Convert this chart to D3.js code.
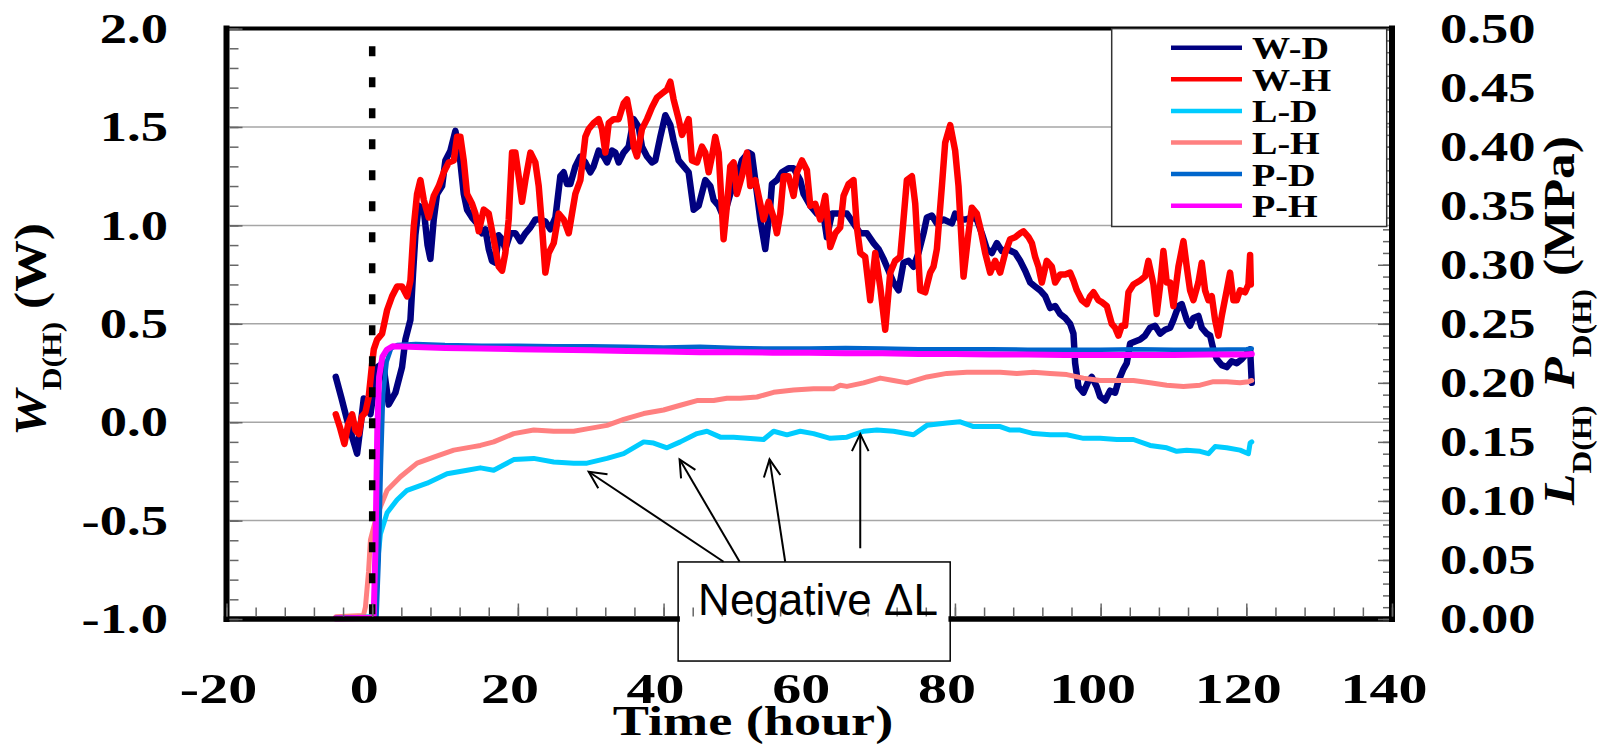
<!DOCTYPE html>
<html>
<head>
<meta charset="utf-8">
<script src="https://cdn.jsdelivr.net/npm/d3@7"></script>
<style>
  html, body { margin: 0; padding: 0; background: #fff; }
  svg { display: block; }
</style>
</head>
<body>
<svg id="chart" width="1598" height="746"></svg>
<script>
// ---- Tick values and labels ----
const xTicks = [-20, 0, 20, 40, 60, 80, 100, 120, 140];
const leftTicks = [-1.0, -0.5, 0.0, 0.5, 1.0, 1.5, 2.0];
const leftTickLabels = ["-1.0", "-0.5", "0.0", "0.5", "1.0", "1.5", "2.0"];
const rightTicks = [0, 0.05, 0.10, 0.15, 0.20, 0.25, 0.30, 0.35, 0.40, 0.45, 0.50];
const rightTickLabels = ["0.00", "0.05", "0.10", "0.15", "0.20", "0.25", "0.30", "0.35", "0.40", "0.45", "0.50"];

// ---- Series: [time (hour), value] ----
// W-D and W-H use the left axis (W); L and P series use the right axis (MPa)
const wD = [[-5.0,0.23],[-4.2,0.12],[-3.44,0.01],[-2.7,-0.08],[-2.07,-0.16],[-1.6,-0.02],[-1.16,0.12],[-0.7,0.08],[-0.24,0.04],[0.3,0.18],[0.68,0.28],[1.5,0.30],[2.27,0.09],[3.19,0.15],[4.1,0.28],[4.56,0.42],[5.25,0.52],[5.6,0.75],[5.93,0.95],[6.39,1.10],[7.08,1.08],[7.6,0.90],[7.99,0.83],[8.45,1.03],[8.91,1.16],[9.6,1.20],[10.05,1.33],[10.74,1.38],[11.42,1.48],[11.88,1.40],[12.57,1.16],[13.02,1.08],[13.71,1.04],[14.4,1.01],[15.08,0.96],[15.54,0.98],[16.0,0.88],[16.45,0.82],[16.91,0.81],[17.37,0.95],[17.83,0.93],[18.28,0.88],[18.97,0.96],[19.66,0.96],[20.34,0.92],[21.03,0.96],[21.72,0.99],[22.4,1.03],[23.09,1.03],[23.77,1.02],[24.46,0.98],[25.15,1.04],[25.83,1.25],[26.29,1.27],[26.75,1.21],[27.2,1.21],[27.89,1.30],[28.58,1.35],[29.26,1.32],[29.95,1.27],[30.4,1.30],[31.09,1.38],[31.78,1.35],[32.24,1.32],[32.92,1.38],[33.38,1.37],[33.84,1.32],[34.52,1.37],[35.21,1.40],[35.9,1.54],[36.58,1.50],[37.04,1.40],[37.73,1.35],[38.41,1.32],[38.87,1.33],[39.55,1.45],[40.24,1.56],[40.93,1.51],[41.38,1.43],[42.07,1.33],[42.76,1.30],[43.44,1.27],[44.13,1.08],[44.82,1.10],[45.73,1.23],[46.42,1.20],[46.87,1.13],[47.56,1.10],[48.24,1.04],[49.16,1.16],[50.07,1.25],[50.76,1.33],[51.67,1.37],[52.13,1.36],[52.59,1.23],[53.28,1.03],[53.96,0.88],[54.65,1.10],[54.88,1.21],[55.56,1.23],[56.25,1.27],[57.16,1.29],[57.85,1.29],[58.76,1.23],[59.22,1.16],[60.14,1.10],[61.05,1.06],[61.97,1.05],[62.42,0.94],[63.11,1.06],[63.8,1.06],[64.48,1.06],[65.17,1.06],[66.08,1.01],[67.0,0.96],[67.91,0.96],[68.83,0.91],[69.51,0.88],[70.2,0.83],[70.89,0.77],[71.57,0.71],[72.26,0.67],[72.94,0.81],[73.63,0.82],[74.31,0.79],[75.0,0.86],[75.69,0.96],[76.15,1.04],[76.83,1.05],[77.52,1.01],[78.44,1.03],[79.58,1.01],[80.03,1.06],[80.72,1.03],[81.41,1.03],[82.32,1.04],[83.0,1.03],[83.69,0.96],[84.38,0.88],[85.07,0.86],[85.75,0.91],[86.44,0.87],[87.13,0.88],[88.27,0.86],[88.95,0.82],[89.64,0.77],[90.33,0.71],[91.0,0.69],[91.7,0.67],[92.4,0.64],[93.07,0.58],[93.76,0.59],[94.44,0.55],[95.13,0.53],[95.81,0.50],[96.27,0.45],[96.5,0.30],[96.96,0.18],[97.64,0.15],[98.33,0.21],[98.79,0.23],[99.47,0.18],[99.93,0.13],[100.62,0.11],[101.3,0.16],[101.99,0.15],[102.45,0.21],[103.13,0.27],[103.59,0.30],[104.05,0.40],[104.73,0.41],[105.42,0.42],[106.1,0.44],[106.79,0.48],[107.48,0.49],[108.16,0.45],[108.85,0.47],[109.54,0.48],[110.0,0.52],[110.68,0.59],[111.14,0.60],[111.82,0.52],[112.28,0.49],[112.74,0.53],[113.42,0.54],[113.88,0.48],[114.57,0.45],[115.03,0.44],[115.48,0.37],[115.94,0.32],[116.63,0.29],[117.31,0.28],[118.0,0.31],[118.69,0.30],[119.37,0.32],[120.06,0.35],[120.52,0.37],[120.75,0.20]];

const wH = [[-5.0,0.04],[-4.4,-0.03],[-3.81,-0.11],[-3.3,-0.01],[-2.75,0.04],[-2.3,-0.04],[-1.84,-0.06],[-1.4,0.03],[-0.93,0.05],[-0.47,0.13],[0.0,0.30],[0.22,0.37],[0.68,0.42],[1.36,0.45],[2.05,0.57],[2.73,0.64],[3.42,0.69],[4.1,0.69],[4.79,0.64],[5.25,0.72],[5.7,0.99],[6.16,1.16],[6.62,1.23],[7.08,1.13],[7.76,1.04],[8.45,1.15],[9.14,1.20],[9.82,1.27],[10.51,1.32],[11.2,1.33],[11.65,1.45],[12.11,1.45],[12.57,1.33],[13.02,1.16],[13.71,1.11],[14.17,1.06],[14.63,0.97],[15.31,1.08],[16.0,1.06],[16.68,0.93],[17.37,0.79],[17.83,0.77],[18.28,0.86],[18.74,1.03],[19.2,1.37],[19.66,1.37],[20.11,1.25],[20.57,1.12],[21.03,1.23],[21.72,1.37],[22.4,1.32],[22.86,1.20],[23.32,0.99],[23.77,0.76],[24.23,0.86],[24.92,0.91],[25.6,1.06],[26.29,1.03],[26.98,0.96],[27.43,1.06],[27.89,1.16],[28.58,1.23],[29.26,1.45],[29.72,1.49],[30.4,1.52],[31.09,1.54],[31.55,1.49],[32.01,1.37],[32.47,1.52],[33.15,1.54],[33.84,1.54],[34.52,1.62],[34.98,1.64],[35.44,1.55],[35.9,1.40],[36.35,1.35],[37.04,1.49],[37.73,1.54],[38.41,1.60],[39.1,1.65],[39.78,1.67],[40.47,1.69],[40.93,1.73],[41.38,1.64],[42.07,1.54],[42.53,1.46],[42.99,1.50],[43.44,1.54],[43.9,1.33],[44.59,1.32],[45.27,1.40],[45.73,1.37],[46.19,1.27],[46.64,1.35],[47.1,1.45],[47.56,1.37],[48.24,0.93],[48.7,1.10],[49.16,1.30],[49.62,1.32],[50.07,1.16],[50.76,1.25],[51.45,1.37],[51.9,1.20],[52.59,1.23],[53.05,1.15],[53.73,1.03],[54.42,1.12],[55.11,1.04],[55.56,0.96],[56.02,1.06],[56.48,1.25],[57.16,1.25],[57.85,1.15],[58.31,1.27],[59.0,1.33],[59.68,1.28],[60.14,1.10],[60.82,1.11],[61.51,1.03],[62.2,1.15],[62.88,0.89],[63.57,0.96],[64.25,0.99],[64.71,1.15],[65.4,1.21],[66.08,1.23],[66.54,0.99],[67.0,0.86],[67.68,0.84],[68.37,0.62],[69.06,0.86],[69.74,0.69],[70.43,0.47],[71.12,0.76],[71.8,0.82],[72.49,0.84],[72.94,1.03],[73.4,1.23],[74.09,1.25],[74.55,1.11],[75.23,0.67],[75.92,0.66],[76.6,0.76],[77.06,0.79],[77.52,0.88],[78.21,1.20],[78.66,1.42],[79.35,1.51],[80.03,1.38],[80.49,1.20],[81.18,0.74],[81.86,0.96],[82.32,1.09],[83.0,1.06],[83.46,0.99],[84.15,0.86],[84.84,0.76],[85.52,0.82],[86.21,0.76],[86.9,0.86],[87.58,0.93],[88.27,0.94],[88.95,0.96],[89.41,0.97],[90.1,0.94],[90.56,0.91],[91.01,0.84],[91.47,0.79],[91.93,0.71],[92.61,0.82],[93.3,0.79],[93.76,0.71],[94.44,0.75],[95.13,0.75],[95.81,0.76],[96.27,0.72],[96.73,0.67],[97.42,0.62],[98.1,0.60],[98.56,0.64],[99.02,0.66],[99.7,0.62],[100.16,0.61],[100.85,0.59],[101.53,0.50],[101.99,0.48],[102.45,0.44],[102.9,0.49],[103.36,0.49],[103.82,0.66],[104.5,0.70],[105.42,0.72],[106.1,0.74],[106.56,0.82],[107.25,0.70],[107.7,0.55],[108.16,0.69],[108.62,0.87],[109.08,0.71],[109.54,0.71],[109.99,0.59],[110.68,0.79],[111.37,0.92],[111.82,0.79],[112.28,0.67],[112.74,0.62],[113.42,0.71],[113.88,0.81],[114.34,0.67],[114.8,0.62],[115.26,0.64],[115.71,0.52],[116.17,0.44],[116.63,0.54],[117.31,0.67],[117.77,0.76],[118.23,0.62],[118.69,0.62],[119.14,0.67],[119.83,0.66],[120.29,0.70],[120.52,0.85],[120.62,0.70]];

const lD = [[-5.0,0.001],[0.3,0.002],[0.45,0.02],[0.68,0.044],[1.13,0.072],[2.05,0.090],[3.42,0.101],[4.79,0.109],[7.54,0.115],[10.28,0.123],[13.03,0.126],[14.85,0.128],[16.68,0.126],[19.43,0.135],[22.17,0.136],[24.92,0.133],[27.66,0.132],[29.49,0.132],[32.24,0.136],[34.52,0.140],[37.27,0.150],[38.64,0.149],[40.47,0.145],[42.3,0.150],[44.59,0.157],[45.96,0.159],[47.79,0.154],[49.62,0.154],[51.45,0.153],[53.73,0.152],[55.11,0.159],[56.94,0.156],[58.76,0.159],[60.59,0.157],[62.88,0.153],[65.17,0.154],[67.45,0.159],[69.29,0.160],[71.57,0.159],[74.31,0.156],[76.15,0.164],[78.89,0.166],[80.72,0.167],[82.55,0.163],[83.46,0.163],[86.21,0.163],[87.58,0.160],[88.95,0.160],[90.79,0.157],[93.07,0.156],[95.36,0.156],[97.64,0.153],[99.93,0.153],[102.22,0.152],[104.5,0.152],[106.79,0.147],[109.08,0.145],[110.45,0.142],[111.82,0.143],[113.65,0.142],[114.8,0.140],[115.71,0.146],[117.31,0.145],[119.14,0.143],[120.29,0.140],[120.52,0.149],[120.75,0.150]];

const lH = [[-5.0,0.002],[-1.2,0.003],[-0.93,0.010],[-0.5,0.040],[-0.24,0.067],[0.3,0.080],[1.13,0.095],[2.05,0.109],[3.88,0.1205],[6.17,0.132],[8.45,0.137],[11.2,0.143],[13.94,0.146],[14.85,0.147],[16.68,0.150],[19.43,0.157],[22.17,0.160],[24.92,0.159],[27.66,0.159],[29.49,0.161],[32.24,0.164],[34.52,0.169],[37.27,0.174],[40.0,0.177],[42.3,0.181],[44.59,0.185],[46.87,0.185],[48.7,0.187],[50.53,0.187],[52.82,0.188],[55.11,0.192],[57.85,0.194],[60.59,0.195],[63.34,0.195],[64.25,0.198],[65.17,0.197],[67.45,0.200],[69.74,0.204],[71.57,0.202],[73.4,0.200],[76.15,0.205],[78.89,0.208],[81.64,0.209],[83.46,0.209],[86.21,0.209],[88.5,0.208],[90.79,0.209],[93.07,0.208],[95.36,0.207],[97.64,0.204],[99.93,0.202],[102.22,0.202],[104.5,0.202],[106.79,0.200],[109.08,0.198],[111.37,0.197],[113.65,0.198],[115.48,0.201],[117.31,0.201],[119.14,0.200],[120.29,0.201],[120.75,0.202]];

const pD = [[-5.0,0.001],[0.6,0.002],[0.9,0.050],[1.2,0.130],[1.5,0.190],[2.0,0.218],[2.6,0.229],[3.4,0.232],[6,0.233],[10,0.232],[15,0.2315],[20,0.2315],[25,0.231],[30,0.231],[35,0.2305],[40,0.230],[45,0.2305],[50,0.2295],[55,0.229],[60,0.229],[65,0.2295],[70,0.229],[75,0.2285],[80,0.2285],[85,0.2285],[90,0.228],[95,0.228],[100,0.228],[105,0.2285],[110,0.228],[115,0.228],[120,0.2285],[120.75,0.229]];

const pH = [[-5.0,0.0005],[0.2,0.001],[0.45,0.060],[0.7,0.160],[0.95,0.205],[1.4,0.222],[2.0,0.228],[2.8,0.231],[5,0.2305],[10,0.2295],[15,0.229],[20,0.2285],[25,0.228],[30,0.2275],[35,0.227],[40,0.2265],[45,0.226],[50,0.226],[55,0.2255],[60,0.2255],[65,0.225],[70,0.225],[75,0.2245],[80,0.2245],[85,0.224],[90,0.224],[95,0.2235],[100,0.2235],[105,0.2235],[110,0.2235],[115,0.224],[120,0.224],[120.75,0.2245]];

const seriesNames = ["W-D", "W-H", "L-D", "L-H", "P-D", "P-H"];
const seriesColors = ["#000080", "#FF0000", "#00CCFF", "#FF8080", "#0066CC", "#FF00FF"];
const seriesData = [wD, wH, lD, lH, pD, pH];
const seriesAxis = ["left", "left", "right", "right", "right", "right"];
const seriesWidth = [6.5, 6.5, 5, 5, 4.5, 6];

// Annotation: arrows from the note box to the L-D curve, [t0, p0, t1, p1] in (hour, MPa)
const noteArrows = [[48.24, 0.0485, 29.72, 0.1247], [50.44, 0.0485, 42.2, 0.1352], [56.7, 0.0485, 54.55, 0.1352], [67.0, 0.0599, 67.0, 0.1566]];
const noteBox = [42.0, 79.35, -0.0356, 0.0483];
const noteText = "Negative \u0394L";

// ---- Layout ----
const W = 1598, H = 746;
const plot = { left: 226.5, right: 1392, top: 28.6, bottom: 619 };
const serif = "'Liberation Serif', 'Times New Roman', serif";

const svg = d3.select("#chart");
svg.append("rect").attr("width", W).attr("height", H).attr("fill", "#fff");

const x = d3.scaleLinear().domain([-20, 140]).range([plot.left, plot.right]);
const yL = d3.scaleLinear().domain([-1, 2]).range([plot.bottom, plot.top]);
const yR = d3.scaleLinear().domain([0, 0.5]).range([plot.bottom, plot.top]);

// Horizontal gridlines at the inner left-axis steps
svg.append("g").selectAll("line")
  .data(leftTicks.filter(v => v > -1 && v < 2))
  .join("line")
  .attr("x1", plot.left).attr("x2", plot.right)
  .attr("y1", d => yL(d)).attr("y2", d => yL(d))
  .attr("stroke", "#a6a6a6").attr("stroke-width", 1.5);

// Series
seriesData.forEach((data, i) => {
  const ys = seriesAxis[i] === "left" ? yL : yR;
  const line = d3.line().x(d => x(d[0])).y(d => ys(d[1]));
  svg.append("path")
    .datum(data)
    .attr("d", line)
    .attr("fill", "none")
    .attr("stroke", seriesColors[i])
    .attr("stroke-width", seriesWidth[i])
    .attr("stroke-linejoin", "round")
    .attr("stroke-linecap", "round");
});

// Vertical dotted marker at time zero
svg.append("line")
  .attr("x1", x(0)).attr("x2", x(0))
  .attr("y1", yL(1.91)).attr("y2", yL(-1))
  .attr("stroke", "#000").attr("stroke-width", 6.5)
  .attr("stroke-dasharray", "10,21");

// Note box (white fill sits over the bottom frame line)
svg.append("rect")
  .attr("x", x(noteBox[0])).attr("y", yR(noteBox[3]))
  .attr("width", x(noteBox[1]) - x(noteBox[0]))
  .attr("height", yR(noteBox[2]) - yR(noteBox[3]))
  .attr("fill", "#fff").attr("stroke", "#000").attr("stroke-width", 1.5);

// Frame
const frame = svg.append("g").attr("stroke", "#000").attr("stroke-linecap", "square");
frame.append("line").attr("x1", plot.left).attr("x2", plot.right).attr("y1", plot.top).attr("y2", plot.top).attr("stroke-width", 4);
frame.append("line").attr("x1", plot.left).attr("x2", plot.left).attr("y1", plot.top).attr("y2", plot.bottom).attr("stroke-width", 6);
frame.append("line").attr("x1", plot.right).attr("x2", plot.right).attr("y1", plot.top).attr("y2", plot.bottom).attr("stroke-width", 6);
frame.append("line").attr("x1", plot.left).attr("x2", x(noteBox[0]) - 1).attr("y1", plot.bottom).attr("y2", plot.bottom).attr("stroke-width", 5.5);
frame.append("line").attr("x1", x(noteBox[1]) + 1).attr("x2", plot.right).attr("y1", plot.bottom).attr("y2", plot.bottom).attr("stroke-width", 5.5);

// Inward ticks through d3 axes
function styleTicks(g) {
  g.select(".domain").remove();
  g.selectAll(".tick line").attr("stroke", "#666").attr("stroke-width", 1.5);
  g.selectAll(".tick text").remove();
}
svg.append("g").attr("transform", `translate(${plot.left + 3},0)`)
  .call(d3.axisRight(yL).tickValues(d3.range(-10, 21).map(k => k / 10)).tickSize(9)).call(styleTicks);
svg.append("g").attr("transform", `translate(${plot.left + 3},0)`)
  .call(d3.axisRight(yL).tickValues(leftTicks).tickSize(13)).call(styleTicks);
svg.append("g").attr("transform", `translate(${plot.right - 3},0)`)
  .call(d3.axisLeft(yR).tickValues(d3.range(0, 51).map(k => k / 100)).tickSize(6)).call(styleTicks);
svg.append("g").attr("transform", `translate(${plot.right - 3},0)`)
  .call(d3.axisLeft(yR).tickValues(rightTicks).tickSize(11)).call(styleTicks);
svg.append("g").attr("transform", `translate(0,${plot.bottom - 2.5})`)
  .call(d3.axisTop(x).tickValues(d3.range(-20, 141, 4)).tickSize(9)).call(styleTicks);
svg.append("g").attr("transform", `translate(0,${plot.bottom - 2.5})`)
  .call(d3.axisTop(x).tickValues(xTicks).tickSize(13)).call(styleTicks);

// Tick labels (bold serif, widened)
const tickFont = 42, tickStretch = 1.3;
svg.append("g").selectAll("g")
  .data(leftTicks)
  .join("g")
  .attr("transform", d => `translate(168,${yL(d) + 14.2}) scale(${tickStretch},1)`)
  .append("text")
  .attr("text-anchor", "end")
  .attr("font-family", serif).attr("font-weight", "bold").attr("font-size", tickFont)
  .text((d, i) => leftTickLabels[i]);

svg.append("g").selectAll("g")
  .data(rightTicks)
  .join("g")
  .attr("transform", d => `translate(1440,${yR(d) + 14.2}) scale(${tickStretch},1)`)
  .append("text")
  .attr("text-anchor", "start")
  .attr("font-family", serif).attr("font-weight", "bold").attr("font-size", tickFont)
  .text((d, i) => rightTickLabels[i]);

svg.append("g").selectAll("g")
  .data(xTicks)
  .join("g")
  .attr("transform", d => `translate(${x(d) - 8},703) scale(1.38,1)`)
  .append("text")
  .attr("text-anchor", "middle")
  .attr("font-family", serif).attr("font-weight", "bold").attr("font-size", tickFont)
  .text(d => String(d));

// Axis titles
svg.append("g").attr("transform", "translate(753,735) scale(1.29,1)")
  .append("text")
  .attr("text-anchor", "middle")
  .attr("font-family", serif).attr("font-weight", "bold").attr("font-size", 42)
  .text("Time (hour)");

const lt = svg.append("text")
  .attr("transform", "translate(45,436) rotate(-90) scale(1.17,1)")
  .attr("font-family", serif).attr("font-weight", "bold").attr("font-size", 44);
lt.append("tspan").attr("font-style", "italic").text("W");
lt.append("tspan").attr("font-size", 27).attr("dy", 16).text("D(H)");
lt.append("tspan").attr("dy", -16).text("\u00a0(W)");

const rt = svg.append("text")
  .attr("transform", "translate(1574,505) rotate(-90) scale(1.17,1)")
  .attr("font-family", serif).attr("font-weight", "bold").attr("font-size", 44);
rt.append("tspan").attr("font-style", "italic").text("L");
rt.append("tspan").attr("font-size", 27).attr("dy", 17).text("D(H)");
rt.append("tspan").attr("dy", -17).attr("dx", 14).attr("font-style", "italic").text("P");
rt.append("tspan").attr("font-size", 27).attr("dy", 17).text("D(H)");
rt.append("tspan").attr("dy", -17).text("\u00a0(MPa)");

// Legend
const legend = svg.append("g");
legend.append("rect")
  .attr("x", 1111.7).attr("y", plot.top)
  .attr("width", 1386.7 - 1111.7).attr("height", 226.5 - plot.top)
  .attr("fill", "#fff").attr("stroke", "#333").attr("stroke-width", 1.5);
const rows = legend.selectAll("g.row")
  .data(seriesNames)
  .join("g")
  .attr("class", "row")
  .attr("transform", (d, i) => `translate(0,${47.7 + i * 31.6})`);
rows.append("line")
  .attr("x1", 1171).attr("x2", 1242).attr("y1", 0).attr("y2", 0)
  .attr("stroke", (d, i) => seriesColors[i]).attr("stroke-width", 4.5);
rows.append("g").attr("transform", "translate(1252,11.5) scale(1.23,1)")
  .append("text")
  .attr("font-family", serif).attr("font-weight", "bold").attr("font-size", 31)
  .text(d => d);

// Arrows toward the L-D curve
const arrows = svg.append("g").attr("stroke", "#000").attr("stroke-width", 2).attr("fill", "none");
noteArrows.forEach(a => {
  const x0 = x(a[0]), y0 = yR(a[1]), x1 = x(a[2]), y1 = yR(a[3]);
  arrows.append("line").attr("x1", x0).attr("y1", y0).attr("x2", x1).attr("y2", y1);
  const ang = Math.atan2(y0 - y1, x0 - x1);
  const len = 19, spread = 26 * Math.PI / 180;
  const p = [ang - spread, ang + spread].map(t => [x1 + len * Math.cos(t), y1 + len * Math.sin(t)]);
  arrows.append("path").attr("d", `M${p[0][0]},${p[0][1]}L${x1},${y1}L${p[1][0]},${p[1][1]}`);
});

// Note text
svg.append("text")
  .attr("x", x(61.2)).attr("y", yR(0.0034))
  .attr("text-anchor", "middle")
  .attr("font-family", "'Liberation Sans', Arial, sans-serif").attr("font-size", 44)
  .text(noteText);
</script>
</body>
</html>
